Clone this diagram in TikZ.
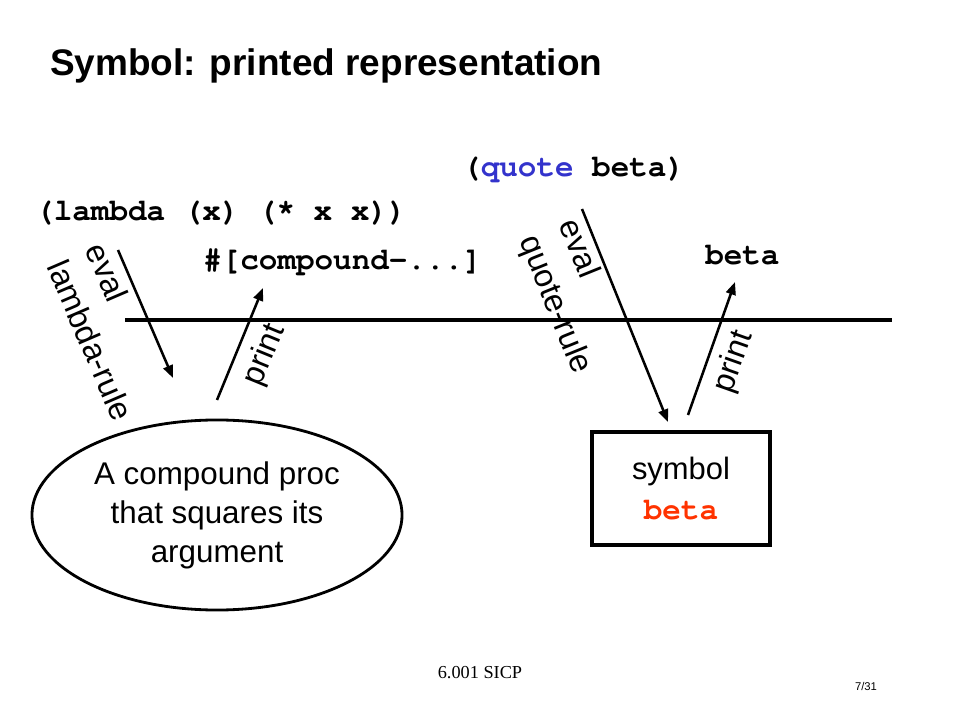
\documentclass[tikz,border=0pt]{standalone}
\usepackage{fontspec}
\setmainfont{Liberation Sans}
\newfontfamily\codeFont{TeX Gyre Cursor}
\newfontfamily\footerFont{Liberation Serif}
\usepackage{tikz}
\usetikzlibrary{positioning, arrows.meta, shapes.geometric}
\tikzstyle{slide} = [x = 0.025cm, y = -0.025cm]
\definecolor{quoteColor}{RGB}{51,51,204}
\definecolor{symbolColor}{RGB}{255,51,0}
\tikzstyle{titleText} = [font=\bfseries\fontsize{26.3}{31}\selectfont, anchor=base west, inner sep=0]
\tikzstyle{codeText} = [font=\codeFont\bfseries\fontsize{22}{26}\selectfont, anchor=base west, inner sep=0]
\tikzstyle{ruleText} = [font=\fontsize{23}{30}\selectfont, align=left, inner sep=0]
\tikzstyle{procEllipse} = [draw, ellipse, line width=2pt, minimum width=9.25cm, minimum height=4.75cm, align=center, font=\fontsize{22.3}{27.7}\selectfont, inner sep=0]
\tikzstyle{symbolBox} = [draw, rectangle, line width=2.3pt, minimum width=4.45cm, minimum height=2.825cm, align=center, font=\fontsize{22}{28.4}\selectfont]
\tikzstyle{evalLine} = [line width=1.8pt, -{Triangle[length=9pt, width=7pt]}]
\tikzstyle{dividerLine} = [line width=2.6pt]
\newcommand{\ruleLabel}[4]{\node [ruleText, rotate = #3] (#1) at (#2) {#4};}
\newcommand{\evalArrow}[2]{\draw [evalLine] (#1) -- (#2);}

\begin{document}
\begin{tikzpicture}[slide]
            \useasboundingbox (0,0) rectangle (960,720);
            \node [titleText] (title) at (50,76) {Symbol: printed representation};

            \node [codeText] (lambdaExpr) at (35,221) {(lambda (x) (* x x))};
            \node [codeText] (compoundValue) at (203,270) {\#[compound-...]};
            \node [codeText] (quoteExpr) at (462,177) {(\textcolor{quoteColor}{quote} beta)};
            \node [codeText] (betaValue) at (705,265) {beta};

            \coordinate (dividerStart) at (125,320);
            \coordinate (dividerEnd) at (892,320);
            \draw [dividerLine] (dividerStart) -- (dividerEnd);

            \node [procEllipse] (compoundProc) at (217,515) {A compound proc\\that squares its\\argument};
            \node [symbolBox] (symbolBeta) at (681,488.5) {symbol\\{\codeFont\bfseries\color{symbolColor}beta}};

            \coordinate (lambdaEvalStart) at (118,250);
            \coordinate (lambdaEvalEnd) at (173,378);
            \coordinate (lambdaPrintStart) at (217,400);
            \coordinate (lambdaPrintEnd) at (263,288);
            \coordinate (quoteEvalStart) at (582,209);
            \coordinate (quoteEvalEnd) at (668,422);
            \coordinate (quotePrintStart) at (688,415);
            \coordinate (quotePrintEnd) at (735,282);
            \evalArrow{lambdaEvalStart}{lambdaEvalEnd}
            \evalArrow{lambdaPrintStart}{lambdaPrintEnd}
            \evalArrow{quoteEvalStart}{quoteEvalEnd}
            \evalArrow{quotePrintStart}{quotePrintEnd}

            \ruleLabel{lambdaRule}{110,332}{-66.7}{eval\\lambda-rule}
            \ruleLabel{lambdaPrint}{265,355}{67.7}{print}
            \ruleLabel{quoteRule}{574,297}{-68}{eval\\quote-rule}
            \ruleLabel{quotePrint}{734,362}{70.5}{print}

            \node [font=\footerFont\fontsize{13}{15}\selectfont] (footer) at (480,673) {6.001 SICP};
            \node [font=\fontsize{8}{10}\selectfont] (pageNumber) at (866,686) {7/31};
          \end{tikzpicture}
\end{document}
